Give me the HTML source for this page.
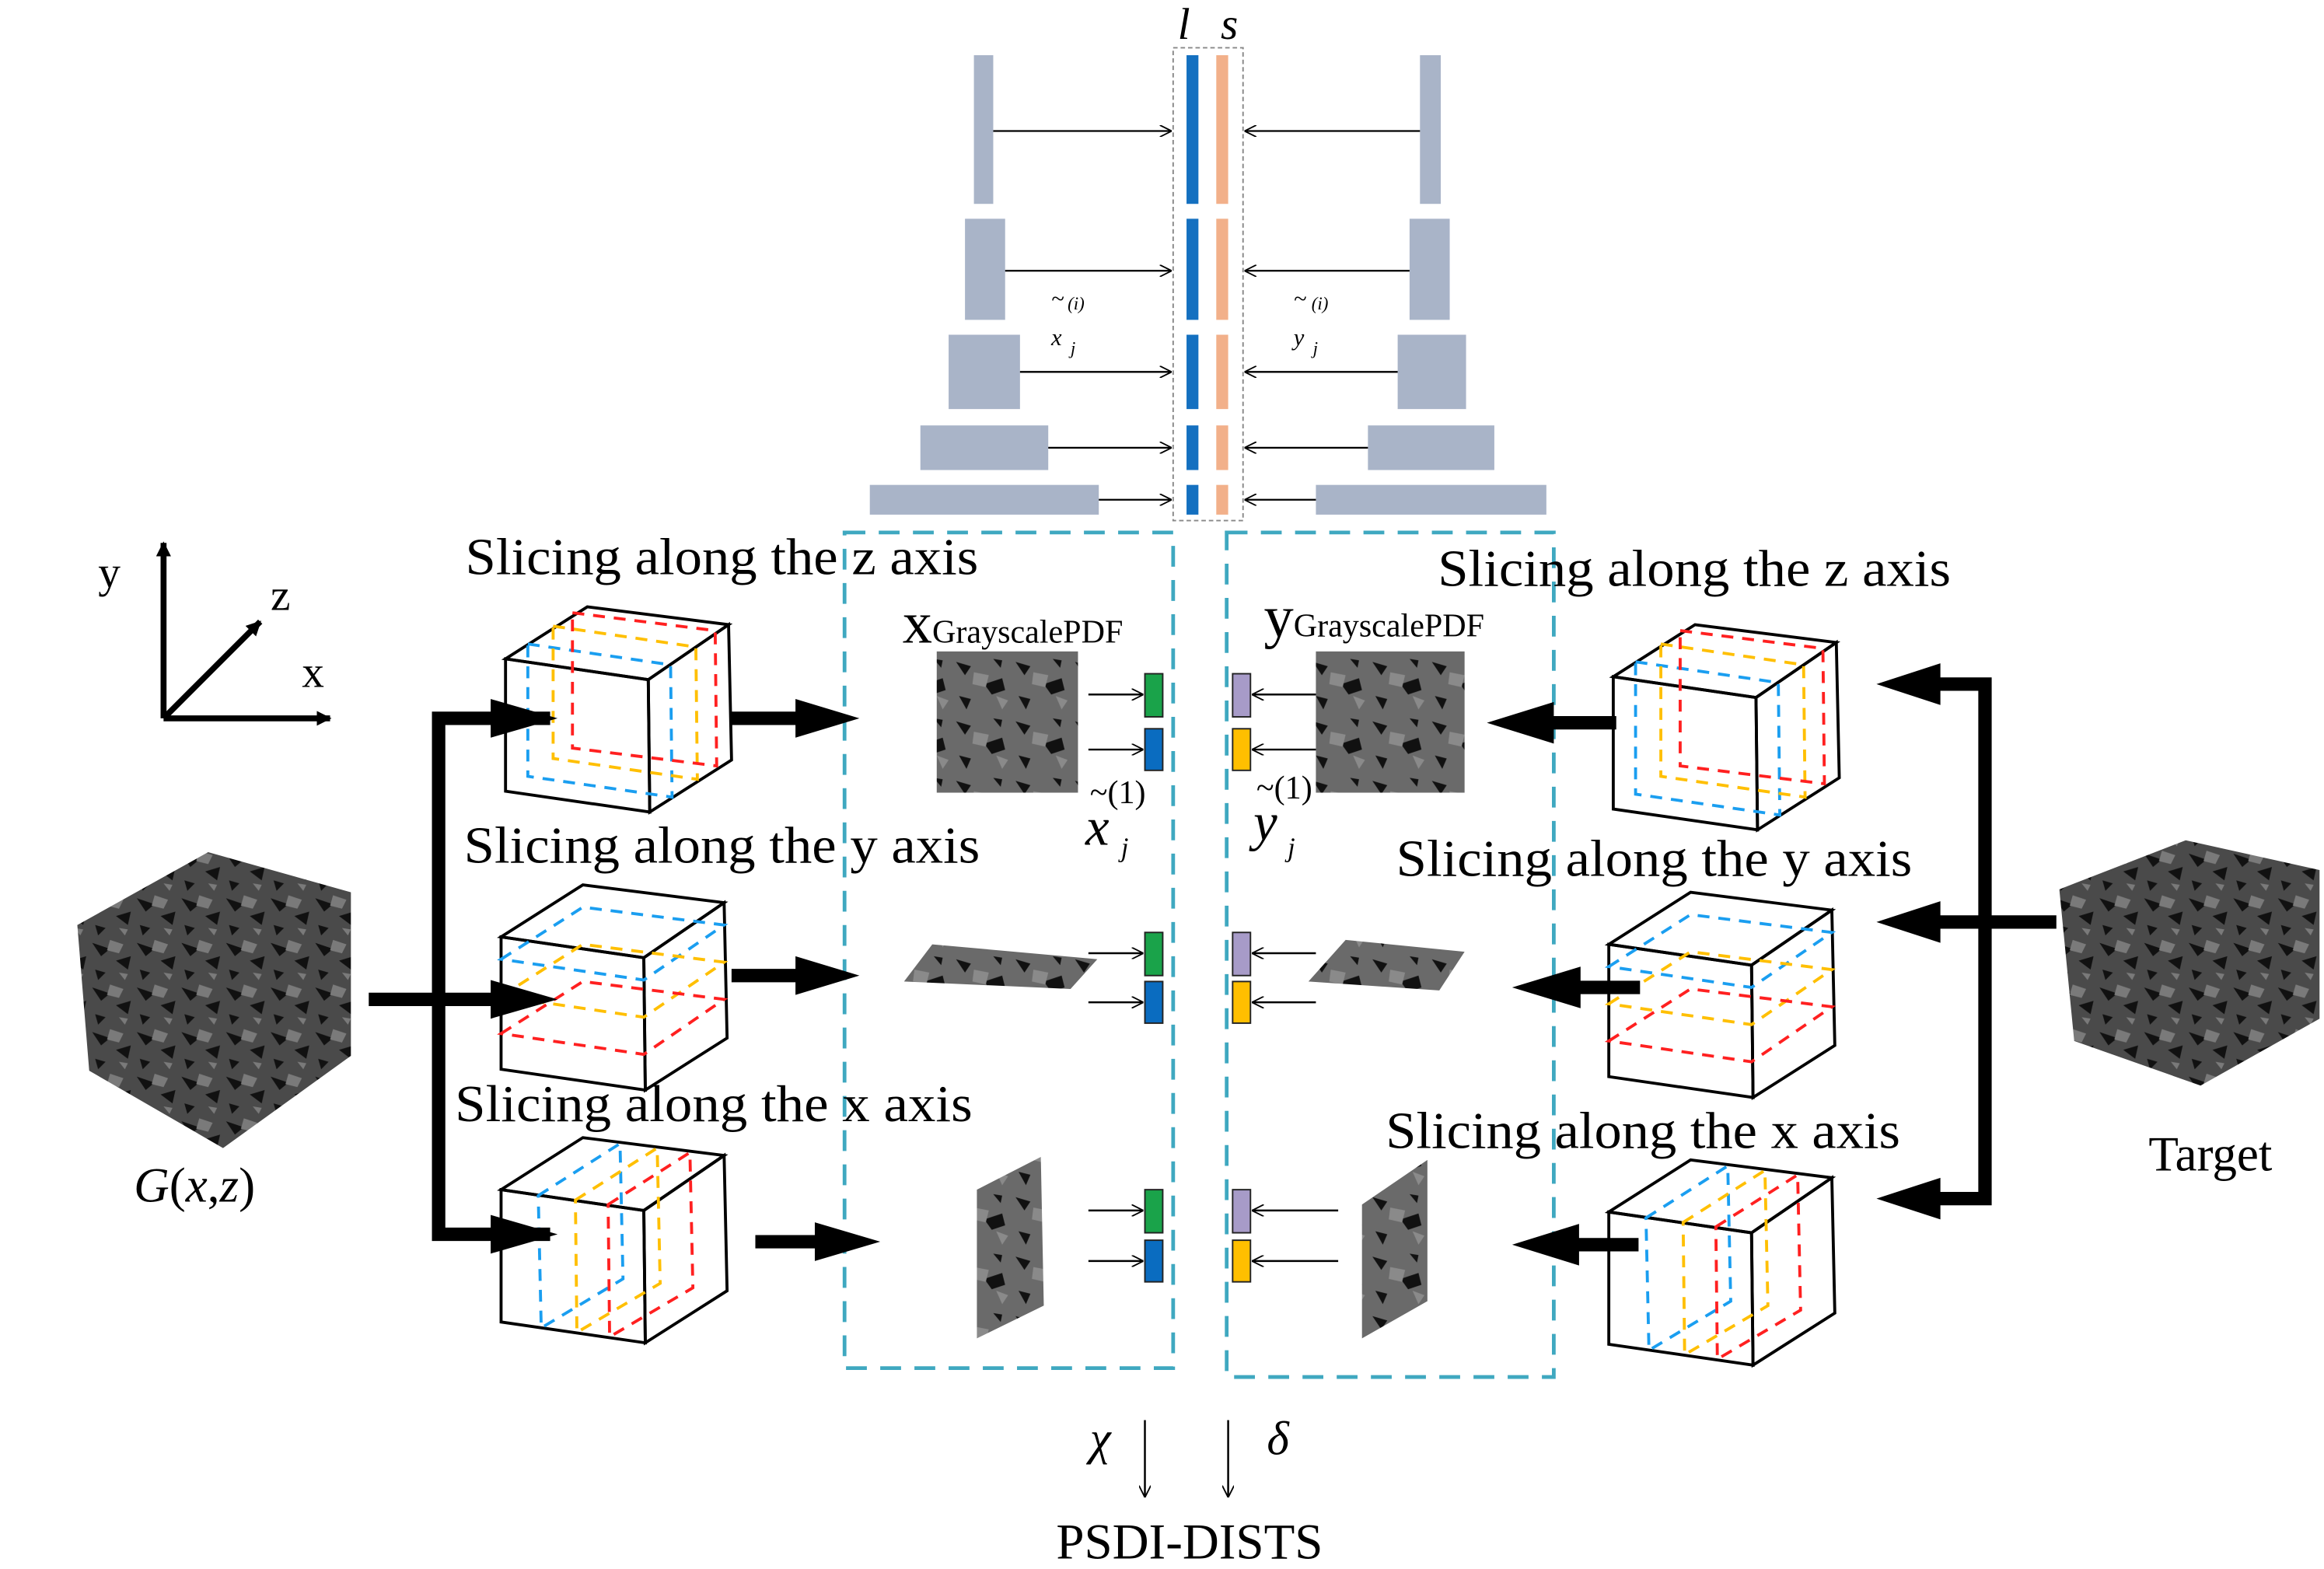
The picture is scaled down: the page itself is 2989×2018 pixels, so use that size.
<!DOCTYPE html>
<html><head><meta charset="utf-8"><style>
html,body{margin:0;padding:0;background:#fff;}
svg{display:block;}
text{font-family:"Liberation Serif",serif;fill:#000;}
</style></head><body>
<svg width="2989" height="2018" viewBox="0 0 1563 1055" xmlns="http://www.w3.org/2000/svg">
<defs>
<marker id="a" viewBox="0 0 10 10" refX="10" refY="5" markerWidth="8" markerHeight="8" orient="auto" markerUnits="userSpaceOnUse"><path d="M0,0 L10,5 L0,10" fill="none" stroke="#000" stroke-width="1.2"/></marker>
<marker id="b" viewBox="0 0 10 10" refX="9" refY="5" markerWidth="10" markerHeight="10" orient="auto" markerUnits="userSpaceOnUse"><path d="M0,0 L10,5 L0,10 Z" fill="#000"/></marker>
<pattern id="tex" width="40" height="40" patternUnits="userSpaceOnUse">
<rect width="40" height="40" fill="#6a6a6a"/>
<path d="M3,5 l10,3 l-4,6 z M22,20 l12,-4 l2,8 l-9,3 z M5,28 l8,2 l-3,7 z M28,3 l6,1 l-1,5z" fill="#111"/>
<path d="M15,12 l10,2 l-2,8 l-9,-2 z M30,28 l8,3 l-4,6 z" fill="#8a8a8a"/>
</pattern>
<pattern id="tex2" width="30" height="30" patternUnits="userSpaceOnUse">
<rect width="30" height="30" fill="#4a4a4a"/>
<path d="M2,4 l12,4 l-6,5 z M18,16 l10,-3 l-2,9 z M4,22 l7,2 l-5,5z" fill="#111"/>
<path d="M14,2 l9,3 l-3,6 l-8,-2 z M20,24 l6,1 l-2,4z" fill="#7a7a7a"/>
</pattern>
<g id="cube" fill="none" stroke="#000" stroke-width="2">
<polygon points="0,35 96,49 97,138 0,124"/>
<polygon points="0,35 55,0 150,12 96,49"/>
<polygon points="96,49 150,12 152,103 97,138"/>
</g>
</defs>

<!-- top pyramid -->
<g fill="#a9b4c8">
<rect x="655" y="37" width="13" height="100"/>
<rect x="649" y="147" width="27" height="68"/>
<rect x="638" y="225" width="48" height="50"/>
<rect x="619" y="286" width="86" height="30"/>
<rect x="585" y="326" width="154" height="20"/>
<rect x="955" y="37" width="14" height="100"/>
<rect x="948" y="147" width="27" height="68"/>
<rect x="940" y="225" width="46" height="50"/>
<rect x="920" y="286" width="85" height="30"/>
<rect x="885" y="326" width="155" height="20"/>
</g>
<rect x="789" y="32" width="47" height="318" fill="none" stroke="#888" stroke-width="1" stroke-dasharray="3,2"/>
<g fill="#1470c0">
<rect x="798" y="37" width="8" height="100"/><rect x="798" y="147" width="8" height="68"/><rect x="798" y="225" width="8" height="50"/><rect x="798" y="286" width="8" height="30"/><rect x="798" y="326" width="8" height="20"/>
</g>
<g fill="#f2b08a">
<rect x="818" y="37" width="8" height="100"/><rect x="818" y="147" width="8" height="68"/><rect x="818" y="225" width="8" height="50"/><rect x="818" y="286" width="8" height="30"/><rect x="818" y="326" width="8" height="20"/>
</g>
<g stroke="#000" stroke-width="1.2" marker-end="url(#a)">
<line x1="668" y1="88" x2="788" y2="88"/><line x1="676" y1="182" x2="788" y2="182"/><line x1="686" y1="250" x2="788" y2="250"/><line x1="705" y1="301" x2="788" y2="301"/><line x1="739" y1="336" x2="788" y2="336"/>
<line x1="955" y1="88" x2="837" y2="88"/><line x1="948" y1="182" x2="837" y2="182"/><line x1="940" y1="250" x2="837" y2="250"/><line x1="920" y1="301" x2="837" y2="301"/><line x1="885" y1="336" x2="837" y2="336"/>
</g>
<text x="792" y="26" font-size="30" font-style="italic">l</text>
<text x="821" y="26" font-size="30" font-style="italic">s</text>
<g fill="#555" font-size="16" font-style="italic"><text x="707" y="206">~</text><text x="718" y="208" font-size="12">(i)</text><text x="707" y="232">x</text><text x="720" y="238" font-size="12">j</text>
<text x="870" y="206">~</text><text x="882" y="208" font-size="12">(i)</text><text x="870" y="232">y</text><text x="883" y="238" font-size="12">j</text></g>

<!-- dashed teal boxes -->
<g fill="none" stroke="#3fa8c0" stroke-width="2.5" stroke-dasharray="14,9">
<rect x="568" y="358" width="221" height="562"/>
<rect x="825" y="358" width="220" height="568"/>
</g>

<!-- axes -->
<g stroke="#000" stroke-width="4" marker-end="url(#b)">
<line x1="110" y1="483" x2="110" y2="365"/>
<line x1="110" y1="483" x2="222" y2="483"/>
<line x1="110" y1="483" x2="175" y2="418"/>
</g>
<text x="66" y="395" font-size="30">y</text>
<text x="182" y="410" font-size="30">z</text>
<text x="203" y="462" font-size="30">x</text>

<!-- labels -->
<g font-size="35">
<text x="313" y="386" textLength="345" lengthAdjust="spacingAndGlyphs">Slicing along the z axis</text>
<text x="312" y="580" textLength="347" lengthAdjust="spacingAndGlyphs">Slicing along the y axis</text>
<text x="306" y="754" textLength="348" lengthAdjust="spacingAndGlyphs">Slicing along the x axis</text>
<text x="967" y="394" textLength="345" lengthAdjust="spacingAndGlyphs">Slicing along the z axis</text>
<text x="939" y="589" textLength="347" lengthAdjust="spacingAndGlyphs">Slicing along the y axis</text>
<text x="932" y="772" textLength="346" lengthAdjust="spacingAndGlyphs">Slicing along the x axis</text>
<text x="1445" y="787" font-size="33">Target</text>
<text x="90" y="808" font-size="33"><tspan font-style="italic">G</tspan>(<tspan font-style="italic">x</tspan>,<tspan font-style="italic">z</tspan>)</text>
</g>
<text x="607" y="432" font-size="40">x<tspan font-size="22">GrayscalePDF</tspan></text>
<text x="850" y="428" font-size="40">y<tspan font-size="22">GrayscalePDF</tspan></text>
<text x="733" y="540" font-size="22">~(1)</text>
<text x="730" y="568" font-size="36" font-style="italic">x</text><text x="754" y="576" font-size="18" font-style="italic">j</text>
<text x="845" y="537" font-size="22">~(1)</text>
<text x="843" y="565" font-size="36" font-style="italic">y</text><text x="866" y="576" font-size="18" font-style="italic">j</text>

<!-- cubes left -->
<g transform="translate(340,408)">
<use href="#cube"/>
<g fill="none" stroke-width="2" stroke-dasharray="8,6">
<polygon points="15,25 111,39 112,128 15,114" stroke="#1a9ef0"/>
<polygon points="32,13 128,27 129,116 32,102" stroke="#ffbf00"/>
<polygon points="45,4 141,16 142,107 45,95" stroke="#ff2020"/>
</g>
</g>
<g transform="translate(337,595)">
<use href="#cube"/>
<g fill="none" stroke-width="2" stroke-dasharray="8,6">
<polygon points="0,50 55,15 150,27 96,64" stroke="#1a9ef0"/>
<polygon points="0,75 55,40 150,52 96,89" stroke="#ffbf00"/>
<polygon points="0,100 55,65 150,77 96,114" stroke="#ff2020"/>
</g>
</g>
<g transform="translate(337,765)">
<use href="#cube"/>
<g fill="none" stroke-width="2" stroke-dasharray="8,6">
<polygon points="25,39 80,4 82,95 27,128" stroke="#1a9ef0"/>
<polygon points="50,42 105,7 107,98 51,131" stroke="#ffbf00"/>
<polygon points="72,45 127,10 129,101 73,134" stroke="#ff2020"/>
</g>
</g>
<!-- cubes right -->
<g transform="translate(1085,420)">
<use href="#cube"/>
<g fill="none" stroke-width="2" stroke-dasharray="8,6">
<polygon points="15,25 111,39 112,128 15,114" stroke="#1a9ef0"/>
<polygon points="32,13 128,27 129,116 32,102" stroke="#ffbf00"/>
<polygon points="45,4 141,16 142,107 45,95" stroke="#ff2020"/>
</g>
</g>
<g transform="translate(1082,600)">
<use href="#cube"/>
<g fill="none" stroke-width="2" stroke-dasharray="8,6">
<polygon points="0,50 55,15 150,27 96,64" stroke="#1a9ef0"/>
<polygon points="0,75 55,40 150,52 96,89" stroke="#ffbf00"/>
<polygon points="0,100 55,65 150,77 96,114" stroke="#ff2020"/>
</g>
</g>
<g transform="translate(1082,780)">
<use href="#cube"/>
<g fill="none" stroke-width="2" stroke-dasharray="8,6">
<polygon points="25,39 80,4 82,95 27,128" stroke="#1a9ef0"/>
<polygon points="50,42 105,7 107,98 51,131" stroke="#ffbf00"/>
<polygon points="72,45 127,10 129,101 73,134" stroke="#ff2020"/>
</g>
</g>

<!-- textured cubes -->
<g>
<polygon points="52,622 140,573 236,600 236,710 150,772 60,720" fill="url(#tex2)"/>
<polygon points="1385,598 1470,565 1560,585 1560,685 1480,730 1395,700" fill="url(#tex2)"/>
</g>

<!-- slices -->
<rect x="630" y="438" width="95" height="95" fill="url(#tex)"/>
<rect x="885" y="438" width="100" height="95" fill="url(#tex)"/>
<polygon points="627,635 738,645 720,665 608,660" fill="url(#tex)"/>
<polygon points="905,632 985,640 968,666 880,660" fill="url(#tex)"/>
<polygon points="657,800 700,778 702,878 657,900" fill="url(#tex)"/>
<polygon points="916,810 960,780 960,875 916,900" fill="url(#tex)"/>

<!-- small feature boxes -->
<g stroke="#222" stroke-width="1">
<rect x="770" y="453" width="12" height="29" fill="#1aa34a"/>
<rect x="770" y="490" width="12" height="28" fill="#0a6cc0"/>
<rect x="770" y="627" width="12" height="29" fill="#1aa34a"/>
<rect x="770" y="660" width="12" height="28" fill="#0a6cc0"/>
<rect x="770" y="800" width="12" height="29" fill="#1aa34a"/>
<rect x="770" y="834" width="12" height="28" fill="#0a6cc0"/>
<rect x="829" y="453" width="12" height="29" fill="#a79bc8"/>
<rect x="829" y="490" width="12" height="28" fill="#ffbf00"/>
<rect x="829" y="627" width="12" height="29" fill="#a79bc8"/>
<rect x="829" y="660" width="12" height="28" fill="#ffbf00"/>
<rect x="829" y="800" width="12" height="29" fill="#a79bc8"/>
<rect x="829" y="834" width="12" height="28" fill="#ffbf00"/>
</g>
<g stroke="#000" stroke-width="1.3" marker-end="url(#a)">
<line x1="732" y1="467" x2="769" y2="467"/><line x1="732" y1="504" x2="769" y2="504"/>
<line x1="732" y1="641" x2="769" y2="641"/><line x1="732" y1="674" x2="769" y2="674"/>
<line x1="732" y1="814" x2="769" y2="814"/><line x1="732" y1="848" x2="769" y2="848"/>
<line x1="885" y1="467" x2="842" y2="467"/><line x1="885" y1="504" x2="842" y2="504"/>
<line x1="885" y1="641" x2="842" y2="641"/><line x1="885" y1="674" x2="842" y2="674"/>
<line x1="900" y1="814" x2="842" y2="814"/><line x1="900" y1="848" x2="842" y2="848"/>
</g>

<!-- thick arrows -->
<g stroke="#000" stroke-width="9" fill="none">
<polyline points="370,483 295,483 295,830 370,830"/>
<polyline points="1300,460 1335,460 1335,806 1300,806"/>
<line x1="1300" y1="620" x2="1383" y2="620"/>
</g>
<g fill="#000">
<polygon points="330,470 375,483 330,496"/>
<polygon points="330,817 375,830 330,843"/>
<polygon points="330,659 375,672 330,685"/>
<polygon points="535,470 578,483 535,496"/>
<polygon points="535,643 578,656 535,669"/>
<polygon points="548,822 592,835 548,848"/>
<polygon points="1305,446 1262,460 1305,474"/>
<polygon points="1305,606 1262,620 1305,634"/>
<polygon points="1305,792 1262,806 1305,820"/>
<polygon points="1045,472 1000,486 1045,500"/>
<polygon points="1063,650 1017,664 1063,678"/>
<polygon points="1062,823 1017,837 1062,851"/>
</g>
<g stroke="#000" stroke-width="9">
<line x1="248" y1="672" x2="335" y2="672"/>
<line x1="492" y1="483" x2="538" y2="483"/>
<line x1="492" y1="656" x2="538" y2="656"/>
<line x1="508" y1="835" x2="551" y2="835"/>
<line x1="1042" y1="486" x2="1087" y2="486"/>
<line x1="1060" y1="664" x2="1103" y2="664"/>
<line x1="1059" y1="837" x2="1102" y2="837"/>
</g>

<!-- bottom -->
<g stroke="#000" stroke-width="1.3" marker-end="url(#a)">
<line x1="770" y1="955" x2="770" y2="1007"/>
<line x1="826" y1="955" x2="826" y2="1007"/>
</g>
<text x="733" y="978" font-size="32" font-style="italic">χ</text>
<text x="852" y="978" font-size="32" font-style="italic">δ</text>
<text x="800" y="1048" font-size="34" text-anchor="middle">PSDI-DISTS</text>
</svg>
</body></html>
